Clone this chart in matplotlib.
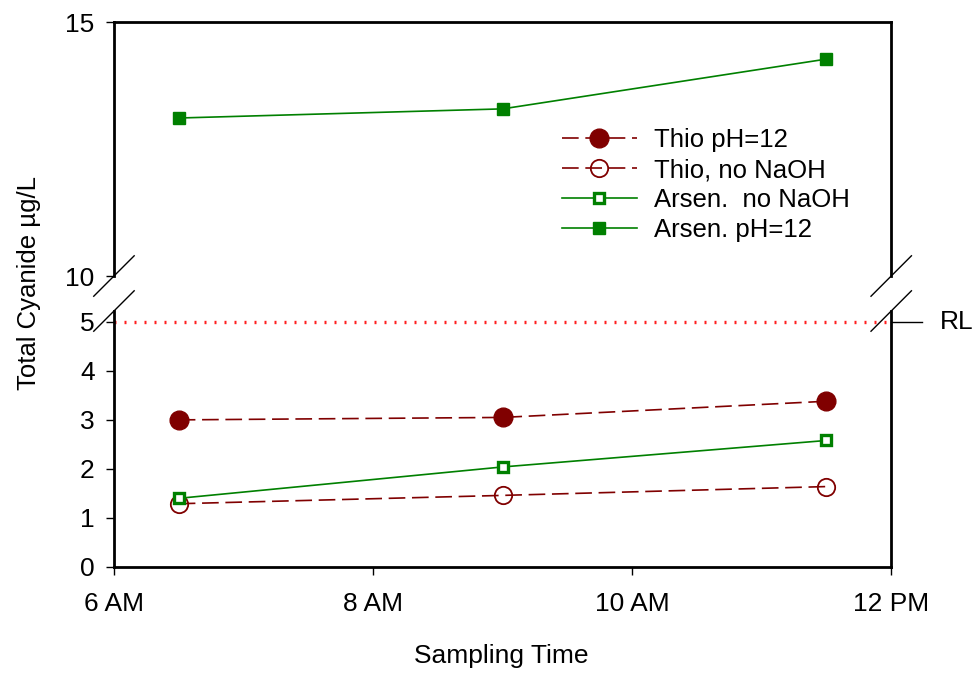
import matplotlib
matplotlib.use('Agg')
import matplotlib.pyplot as plt

plt.rcParams['font.family'] = ['Liberation Sans', 'DejaVu Sans']

# sampling times in hours (6.5 = 6:30 AM)
times = [6.5, 9.0, 11.5]
thio_ph12 = [3.0, 3.05, 3.38]
thio_no_naoh = [1.29, 1.46, 1.64]
arsen_no_naoh = [1.40, 2.04, 2.58]
arsen_ph12 = [13.11, 13.29, 14.27]
rl_value = 5

xticks = [6, 8, 10, 12]
xticklabels = ['6 AM', '8 AM', '10 AM', '12 PM']

red = '#800000'
green = '#008000'

fig = plt.figure(figsize=(9.74, 6.77), dpi=100)
ax_top = fig.add_axes([0.117, 0.5923, 0.798, 0.3752])
ax_bot = fig.add_axes([0.117, 0.1625, 0.798, 0.3781])

thio_kw = dict(color=red, lw=1.2, dashes=(10, 4))
for ax in (ax_top, ax_bot):
    l1, = ax.plot(times, thio_ph12, marker='o', ms=13.5, mfc=red, mec=red,
                  label='Thio pH=12', **thio_kw)
    l2, = ax.plot(times, thio_no_naoh, marker='o', ms=12.5, mfc='none', mec=red,
                  mew=1.3, label='Thio, no NaOH', **thio_kw)
    l3, = ax.plot(times, arsen_no_naoh, color=green, lw=1.2, marker='s', ms=7.5,
                  mfc='white', mec=green, mew=2.4, label='Arsen.  no NaOH')
    l4, = ax.plot(times, arsen_ph12, color=green, lw=1.2, marker='s', ms=8,
                  mfc=green, mec=green, label='Arsen. pH=12')
    ax.set_xlim(6, 12)
    for s in ax.spines.values():
        s.set_linewidth(2)
    ax.tick_params(labelsize=19, direction='out', width=1, length=6, pad=8,
                   right=False)

ax_bot.axhline(rl_value, color='#ff2020', lw=2.4, ls=(0, (0.6, 2.4)))

ax_top.set_ylim(10, 15)
ax_top.set_yticks([10, 15])
ax_top.spines['bottom'].set_visible(False)
ax_top.tick_params(axis='x', bottom=False, labelbottom=False)

ax_bot.set_ylim(0, 5.22)
ax_bot.set_yticks([0, 1, 2, 3, 4, 5])
ax_bot.spines['top'].set_visible(False)
ax_bot.set_xticks(xticks)
ax_bot.set_xticklabels(xticklabels)
ax_bot.tick_params(axis='x', length=6, pad=12)

# break marks
d = 0.026
for ax, y0 in ((ax_top, 0), (ax_bot, 1)):
    dyy = d * 0.798 * 974 / (ax.get_position().height * 677)
    for x0 in (0, 1):
        ax.plot([x0 - d, x0 + d], [y0 - dyy, y0 + dyy], transform=ax.transAxes,
                color='black', lw=1, clip_on=False)

# RL marker on the right
ax_bot.plot([1, 1.04], [rl_value, rl_value], color='black', lw=1,
            transform=ax_bot.get_yaxis_transform(), clip_on=False)
ax_bot.text(1.062, rl_value, 'RL', transform=ax_bot.get_yaxis_transform(),
            fontsize=19, va='center', ha='left')

fig.legend(handles=[l1, l2, l3, l4], loc='upper left', frameon=False,
           bbox_to_anchor=(0.577, 0.811), bbox_transform=fig.transFigure,
           borderpad=0, borderaxespad=0, fontsize=18.5, handlelength=2.9,
           handletextpad=0.7, labelspacing=0.24)

fig.text(0.03, 0.582, 'Total Cyanide µg/L', rotation=90, fontsize=18.5,
         ha='center', va='center')
fig.text(0.515, 0.0207, 'Sampling Time', fontsize=19, ha='center',
         va='baseline')

fig.savefig('out.png', dpi=100)
